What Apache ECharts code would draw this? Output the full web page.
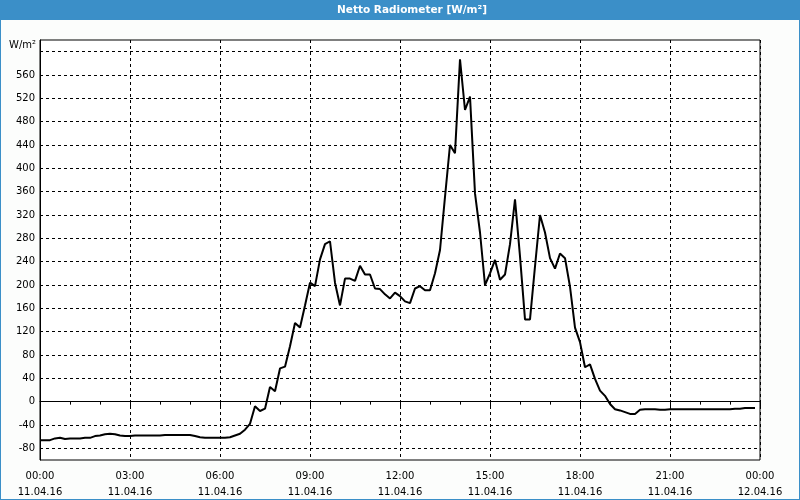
<!DOCTYPE html>
<html>
<head>
<meta charset="utf-8">
<script src="https://cdn.jsdelivr.net/npm/echarts@6/dist/echarts.min.js"></script>
<style>
html,body{margin:0;padding:0;background:#fff;}
#c{width:800px;height:500px;}
</style>
</head>
<body>
<div id="c"></div>
<script>
const chartTitle = 'Netto Radiometer [W/m²]';
const unitLabel = 'W/m²';
const times = [
'00:00','00:10','00:20','00:30','00:40','00:50','01:00','01:10','01:20','01:30','01:40','01:50',
'02:00','02:10','02:20','02:30','02:40','02:50','03:00','03:10','03:20','03:30','03:40','03:50',
'04:00','04:10','04:20','04:30','04:40','04:50','05:00','05:10','05:20','05:30','05:40','05:50',
'06:00','06:10','06:20','06:30','06:40','06:50','07:00','07:10','07:20','07:30','07:40','07:50',
'08:00','08:10','08:20','08:30','08:40','08:50','09:00','09:10','09:20','09:30','09:40','09:50',
'10:00','10:10','10:20','10:30','10:40','10:50','11:00','11:10','11:20','11:30','11:40','11:50',
'12:00','12:10','12:20','12:30','12:40','12:50','13:00','13:10','13:20','13:30','13:40','13:50',
'14:00','14:10','14:20','14:30','14:40','14:50','15:00','15:10','15:20','15:30','15:40','15:50',
'16:00','16:10','16:20','16:30','16:40','16:50','17:00','17:10','17:20','17:30','17:40','17:50',
'18:00','18:10','18:20','18:30','18:40','18:50','19:00','19:10','19:20','19:30','19:40','19:50',
'20:00','20:10','20:20','20:30','20:40','20:50','21:00','21:10','21:20','21:30','21:40','21:50',
'22:00','22:10','22:20','22:30','22:40','22:50','23:00','23:10','23:20','23:30','23:40','23:50'
];
const values = [
-66,-66,-66,-63,-62,-64, -63,-63,-63,-62,-62,-59,
-58,-56,-55,-56,-58,-59, -59,-58,-58,-58,-58,-58,
-58,-57,-57,-57,-57,-57, -57,-59,-61,-62,-62,-62,
-62,-62,-61,-58,-55,-48, -38,-8,-16,-12,25,18,
57,60,95,135,127,165, 204,198,244,270,275,204,
165,211,211,207,233,218, 218,194,193,184,177,187,
181,172,169,194,198,191, 191,220,260,351,440,426,
587,500,523,357,290,200, 220,243,209,218,270,347,
249,141,141,232,320,290, 246,228,254,246,197,127,
102,59,64,39,19,10, -4,-13,-15,-18,-21,-21,
-14,-13,-13,-13,-14,-14, -13,-13,-13,-13,-13,-13,
-13,-13,-13,-13,-13,-13, -13,-12,-12,-11,-11,-11
];
const xTickTimes = ['00:00','03:00','06:00','09:00','12:00','15:00','18:00','21:00','00:00'];
const xTickDates = ['11.04.16','11.04.16','11.04.16','11.04.16','11.04.16','11.04.16','11.04.16','11.04.16','12.04.16'];
const yTickLabels = [-80,-40,0,40,80,120,160,200,240,280,320,360,400,440,480,520,560];

function toHours(t){const p=t.split(':');return (+p[0])+(+p[1])/60;}
const data = times.map((t,i)=>[toHours(t), values[i]]);

const blue = '#3b8fc8';
const font = 'DejaVu Sans';
const chart = echarts.init(document.getElementById('c'), null, {renderer:'canvas'});
chart.setOption({
  animation:false,
  backgroundColor:'#fcfdfc',
  graphic:[
    {type:'rect', shape:{x:0,y:0,width:800,height:20}, style:{fill:blue}, z:-1},
    {type:'rect', shape:{x:0,y:0,width:1,height:500}, style:{fill:blue}},
    {type:'rect', shape:{x:799,y:0,width:1,height:500}, style:{fill:blue}},
    {type:'rect', shape:{x:0,y:499,width:800,height:1}, style:{fill:blue}},
    {type:'text', x:412, y:10, style:{text:chartTitle, fill:'#fff', font:'bold 10.5px "DejaVu Sans"', textAlign:'center', textVerticalAlign:'middle'}},
    {type:'text', x:36, y:45.5, style:{text:unitLabel, fill:'#000', font:'10px "DejaVu Sans"', textAlign:'right', textVerticalAlign:'middle'}}
  ],
  grid:{left:40, right:40, top:40, bottom:40, show:true, borderColor:'#000', borderWidth:1, backgroundColor:'#fff'},
  xAxis:{
    type:'value', min:0, max:24, interval:3,
    axisLine:{show:true, lineStyle:{color:'#000', width:1}},
    axisTick:{show:true, inside:false, length:6, lineStyle:{color:'#000'}},
    minorTick:{show:true, splitNumber:3, length:3, lineStyle:{color:'#000'}},
    splitLine:{show:true, lineStyle:{color:'#000', width:1, type:[3,3]}},
    axisLabel:{
      margin:8, color:'#000', fontFamily:font, fontSize:10, lineHeight:16,
      formatter:function(v){const i=Math.round(v/3);return xTickTimes[i]+'\n'+xTickDates[i];}
    }
  },
  yAxis:{
    type:'value', min:-100, max:620, interval:20,
    axisLine:{show:true, lineStyle:{color:'#000', width:1}},
    axisTick:{show:false},
    splitLine:{show:true, lineStyle:{color:['transparent','#000'], width:1, type:[3,3]}},
    axisLabel:{
      margin:5, color:'#000', fontFamily:font, fontSize:10,
      formatter:function(v){return yTickLabels.indexOf(v)>=0 ? String(v) : '';}
    }
  },
  series:[{
    type:'line', data:data, showSymbol:false, symbol:'none',
    lineStyle:{color:'#000', width:2}, itemStyle:{color:'#000'}
  }]
});
</script>
</body>
</html>
